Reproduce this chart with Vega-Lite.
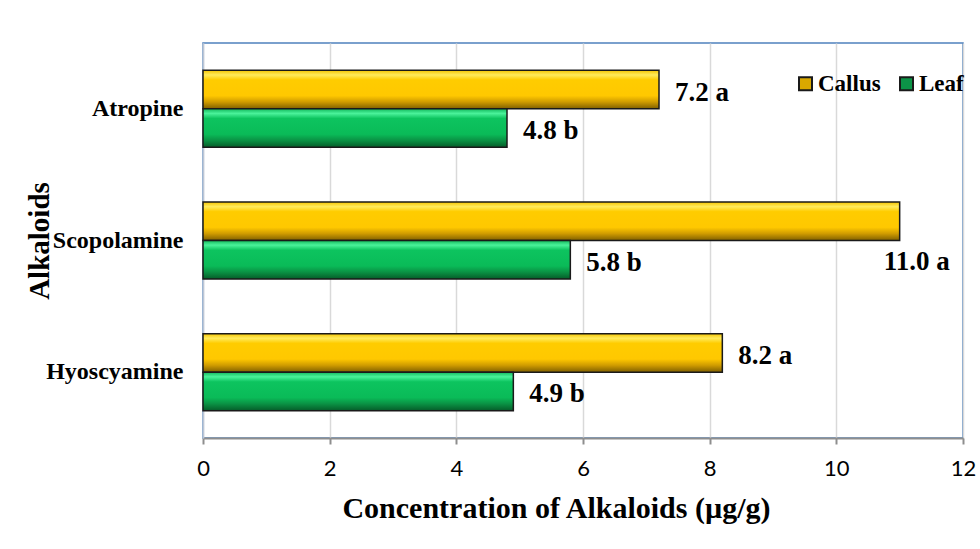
{
  "$schema": "https://vega.github.io/schema/vega-lite/v6.json",
  "autosize": {"type": "none"},
  "width": 760,
  "height": 395,
  "padding": {"left": 203, "top": 43, "right": 17, "bottom": 111},
  "background": "white",
  "data": {
    "values": [
      {"Alkaloid": "Atropine", "Type": "Callus", "value": 7.2, "label": "7.2 a"},
      {"Alkaloid": "Atropine", "Type": "Leaf", "value": 4.8, "label": "4.8 b"},
      {"Alkaloid": "Scopolamine", "Type": "Callus", "value": 11.0, "label": "11.0 a"},
      {"Alkaloid": "Scopolamine", "Type": "Leaf", "value": 5.8, "label": "5.8 b"},
      {"Alkaloid": "Hyoscyamine", "Type": "Callus", "value": 8.2, "label": "8.2 a"},
      {"Alkaloid": "Hyoscyamine", "Type": "Leaf", "value": 4.9, "label": "4.9 b"}
    ]
  },
  "encoding": {
    "y": {
      "field": "Alkaloid",
      "type": "nominal",
      "sort": ["Atropine", "Scopolamine", "Hyoscyamine"],
      "scale": {"paddingInner": 0.415, "paddingOuter": 0.2075},
      "axis": {
        "title": "Alkaloids",
        "titleFont": "Liberation Serif",
        "titleFontWeight": "bold",
        "titleFontSize": 29,
        "titleColor": "black",
        "titleX": -155,
        "titleBaseline": "alphabetic",
        "labelFont": "Liberation Serif",
        "labelFontWeight": "bold",
        "labelFontSize": 24,
        "labelColor": "black",
        "labelPadding": 20,
        "ticks": false,
        "domainColor": "#BCC6D6",
        "domainWidth": 1.5,
        "grid": false
      }
    },
    "yOffset": {"field": "Type", "type": "nominal", "sort": ["Callus", "Leaf"], "scale": {"paddingInner": 0, "paddingOuter": 0}},
    "x": {
      "field": "value",
      "type": "quantitative",
      "scale": {"domain": [0, 12], "nice": false},
      "axis": {
        "title": "Concentration of Alkaloids (µg/g)",
        "titleFont": "Liberation Serif",
        "titleFontWeight": "bold",
        "titleFontSize": 30,
        "titleColor": "black",
        "titleX": 353,
        "titleY": 55,
        "values": [0, 2, 4, 6, 8, 10, 12],
        "labelFont": "Lato",
        "labelFontSize": 22,
        "labelColor": "black",
        "labelFlush": false,
        "labelPadding": 14,
        "tickSize": 6,
        "tickColor": "#8E8E8E",
        "tickWidth": 2,
        "domainColor": "#8E8E8E",
        "domainWidth": 2,
        "grid": true,
        "gridColor": "#D9D9D9",
        "gridWidth": 1.5
      }
    }
  },
  "layer": [
    {
      "mark": {"type": "bar"},
      "encoding": {
        "color": {
          "field": "Type",
          "type": "nominal",
          "scale": {"domain": ["Callus", "Leaf"], "range": ["#D9A800", "#0C9447"]},
          "legend": {
            "title": null,
            "orient": "none",
            "direction": "horizontal",
            "legendX": 591,
            "legendY": 29,
            "padding": 0,
            "symbolType": "square",
            "symbolSize": 169,
            "symbolStrokeColor": "#1A1A1A",
            "symbolStrokeWidth": 2,
            "symbolOpacity": 1,
            "labelFont": "Liberation Serif",
            "labelFontWeight": "bold",
            "labelFontSize": 23,
            "labelColor": "black",
            "labelOffset": 1,
            "columnPadding": 14
          }
        }
      }
    },
    {
      "mark": {"type": "bar", "stroke": "#1A1A1A", "strokeWidth": 1.5},
      "encoding": {
        "fill": {
          "condition": {
            "test": "datum.Type === 'Callus'",
            "value": {
              "gradient": "linear", "x1": 0, "y1": 0, "x2": 0, "y2": 1,
              "stops": [
                {"offset": 0, "color": "#F5C400"},
                {"offset": 0.12, "color": "#FFEB5C"},
                {"offset": 0.25, "color": "#FFCC00"},
                {"offset": 0.66, "color": "#FFC800"},
                {"offset": 0.82, "color": "#D09C00"},
                {"offset": 1, "color": "#7F5F00"}
              ]
            }
          },
          "value": {
            "gradient": "linear", "x1": 0, "y1": 0, "x2": 0, "y2": 1,
            "stops": [
              {"offset": 0, "color": "#12B85C"},
              {"offset": 0.12, "color": "#4AF29A"},
              {"offset": 0.25, "color": "#0DC45F"},
              {"offset": 0.66, "color": "#0ABB58"},
              {"offset": 0.82, "color": "#0A9244"},
              {"offset": 1, "color": "#055C29"}
            ]
          }
        }
      }
    },
    {
      "transform": [{"filter": "!(datum.Alkaloid === 'Scopolamine' && datum.Type === 'Callus')"}],
      "mark": {"type": "text", "align": "left", "baseline": "middle", "dx": 16, "dy": 3, "font": "Liberation Serif", "fontWeight": "bold", "fontSize": 27, "color": "black"},
      "encoding": {"text": {"field": "label"}}
    },
    {
      "transform": [{"filter": "datum.Alkaloid === 'Scopolamine' && datum.Type === 'Callus'"}],
      "mark": {"type": "text", "align": "left", "baseline": "middle", "dx": -16, "dy": 41, "font": "Liberation Serif", "fontWeight": "bold", "fontSize": 27, "color": "black"},
      "encoding": {"text": {"field": "label"}}
    }
  ],
  "config": {
    "view": {"stroke": "#4F81BD", "strokeWidth": 1.5}
  }
}
